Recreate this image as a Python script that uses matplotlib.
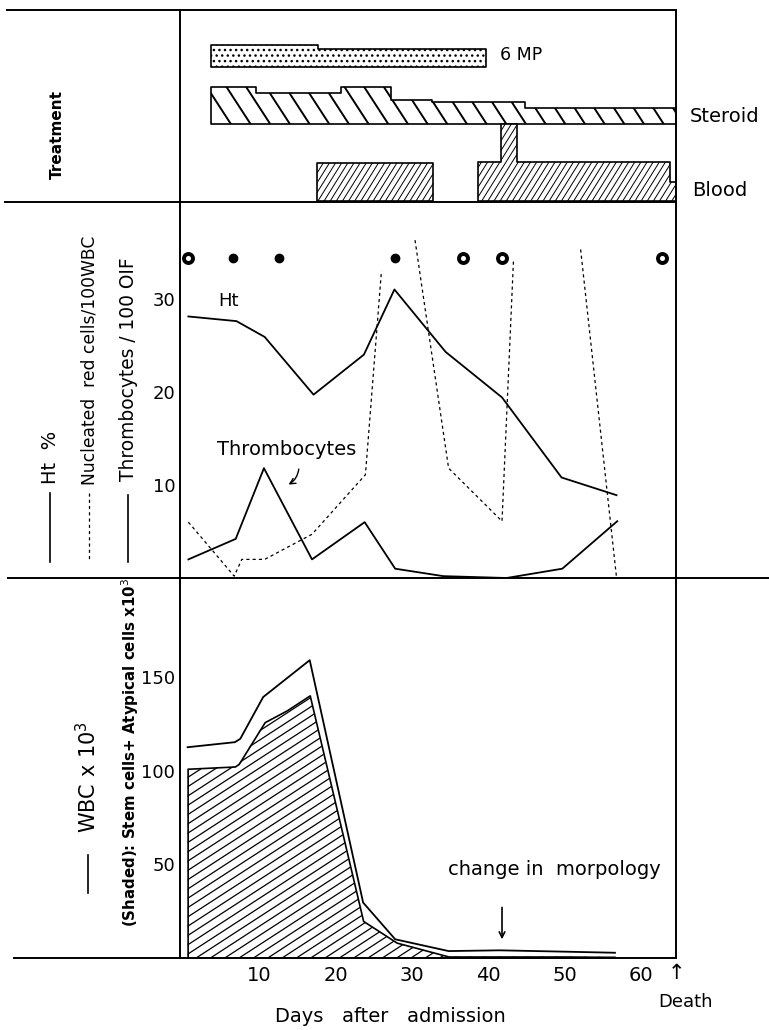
import numpy as np
import matplotlib
matplotlib.use("Agg")
import matplotlib.pyplot as plt
from matplotlib.lines import Line2D
from matplotlib.collections import LineCollection
from matplotlib.transforms import IdentityTransform

# ---- treatment (relative dose levels) ----
mp6_days = [3.7, 17.7, 39.7]
mp6_dose = [21.7, 17.4, 17.4]
steroid_days = [3.7, 9.6, 20.7, 27.2, 32.6, 44.8, 64.6]
steroid_dose = [37.3, 30.7, 37.3, 24.0, 21.7, 16.3, 16.3]
blood1_days = [17.5, 32.7]
blood1_amt = [38.0, 38.0]
blood2_days = [38.7, 41.7, 43.8, 63.8, 64.6]
blood2_amt = [39.0, 77.4, 39.0, 19.0, 19.0]

# ---- middle panel ----
ht_days = [0.7, 7.0, 10.7, 17.1, 23.7, 27.7, 34.4, 41.8, 49.6, 56.8]
ht_vals = [28.1, 27.6, 25.9, 19.7, 24.0, 31.0, 24.3, 19.4, 10.8, 8.9]
thr_days = [0.7, 6.9, 10.6, 16.9, 23.8, 27.8, 34.1, 42.4, 49.7, 56.9]
thr_vals = [2.0, 4.2, 11.8, 2.0, 6.0, 1.0, 0.2, 0.0, 1.0, 6.1]
# nucleated red cells, goes off scale twice (gaps = off the chart)
nrc_days = [0.7, 6.7, 7.7, 10.7, 16.9, 23.9, 26.0, np.nan, 30.4, 34.8, 41.8, 43.3, np.nan, 52.1, 56.8]
nrc_vals = [6.0, 0.2, 2.0, 2.0, 4.7, 11.1, 33.0, np.nan, 36.3, 11.8, 6.1, 34.1, np.nan, 35.3, 0.1]
marrow_full = [6.6, 12.6, 27.8]
marrow_ring = [0.6, 36.7, 41.8, 62.7]
marrow_level = 34.4

# ---- bottom panel ----
wbc_days = [0.6, 6.8, 7.5, 10.5, 16.6, 23.6, 27.8, 34.8, 41.5, 49.8, 56.6]
wbc_vals = [112.6, 115.3, 117.1, 139.4, 159.1, 29.6, 10.0, 3.7, 4.1, 3.4, 2.8]
stem_days = [0.6, 6.8, 7.3, 10.7, 13.6, 16.6, 23.6, 28.0, 34.8, 41.5, 49.8, 56.6]
stem_vals = [101.1, 102.3, 103.7, 126.0, 132.3, 140.3, 19.8, 8.2, 0.8, 0.8, 0.8, 0.6]

x_ticks = [10, 20, 30, 40, 50, 60]
mid_ticks = [10, 20, 30]
low_ticks = [50, 100, 150]

W, H = 769, 1030
plt.rcParams['font.family'] = ['DejaVu Sans']
fig = plt.figure(figsize=(W / 100, H / 100), dpi=100)


def fx(px):
    return px / W


def fy(py):
    return 1 - py / H


def add_panel(top, bottom):
    ax = fig.add_axes([fx(180), fy(bottom), fx(676) - fx(180), fy(top) - fy(bottom)])
    for s in ['top', 'bottom']:
        ax.spines[s].set_visible(False)
    for s in ['left', 'right']:
        ax.spines[s].set_linewidth(1.4)
    ax.set_xlim(-0.4, 64.6)
    ax.tick_params(length=0, labelsize=13)
    ax.set_xticks([])
    return ax


def hatch_lines(ax, coll, angle, gap, lw):
    # hand-drawn style hatching: straight lines at any angle, clipped to the shape
    path = coll.get_paths()[0]
    ext = path.transformed(ax.transData).get_extents()
    a = np.radians(angle)
    d = np.array([np.cos(a), np.sin(a)])
    n = np.array([-np.sin(a), np.cos(a)])
    c = np.array([(ext.x0 + ext.x1) / 2, (ext.y0 + ext.y1) / 2])
    half = np.hypot(ext.width, ext.height) / 2 + 5
    segs = [[c + t * n - half * d, c + t * n + half * d] for t in np.arange(-half, half, gap)]
    lc = LineCollection(segs, colors='black', linewidths=lw, transform=IdentityTransform())
    lc.set_clip_path(path, ax.transData)
    ax.add_collection(lc, autolim=False)


ax_t = add_panel(10, 202)
ax_m = add_panel(202, 578)
ax_b = add_panel(578, 958)

# horizontal rules (extend out beyond the frame like the original)
for y, x0, x1 in [(10, 7, 676), (202, 5, 676), (578, 8, 769), (958, 14, 676)]:
    fig.add_artist(Line2D([fx(x0), fx(x1)], [fy(y), fy(y)], color='black', lw=1.4))

# ---- treatment panel ----
ax_t.set_ylim(0, 192)
ax_t.set_yticks([])
base_mp, base_st, base_bl = 135.3, 78.0, 1.0
ax_t.fill_between(mp6_days, base_mp, base_mp + np.array(mp6_dose), step='post',
                  facecolor='white', edgecolor='black', hatch='...', lw=1.2)
st = ax_t.fill_between(steroid_days, base_st, base_st + np.array(steroid_dose), step='post',
                       facecolor='white', edgecolor='black', lw=1.2)
hatch_lines(ax_t, st, -57, 16.5, 1.4)
b1 = ax_t.fill_between(blood1_days, base_bl, base_bl + np.array(blood1_amt), step='post',
                       facecolor='white', edgecolor='black', lw=1.2)
hatch_lines(ax_t, b1, 58, 5.2, 0.7)
b2 = ax_t.fill_between(blood2_days, base_bl, base_bl + np.array(blood2_amt), step='post',
                       facecolor='white', edgecolor='black', lw=1.2)
hatch_lines(ax_t, b2, 58, 5.2, 0.7)
ax_t.text(41.5, 147, '6 MP', fontsize=12.5, va='center', ha='left')
ax_t.text(66.4, 85, 'Steroid', fontsize=14, va='center', ha='left', clip_on=False)
ax_t.text(66.7, 12, 'Blood', fontsize=14, va='center', ha='left', clip_on=False)
fig.text(fx(57), fy(135), 'Treatment', rotation=90, fontsize=11, fontweight='bold',
         ha='center', va='center')

# ---- middle panel ----
ax_m.set_ylim(0, 40.4)
ax_m.set_yticks(mid_ticks)
ax_m.plot(ht_days, ht_vals, color='black', lw=1.3)
ax_m.plot(thr_days, thr_vals, color='black', lw=1.3)
ax_m.plot(nrc_days, nrc_vals, color='black', lw=0.9, dashes=(2.5, 2.5))
ax_m.plot(marrow_full, [marrow_level] * len(marrow_full), 'o', color='black', ms=6)
ax_m.plot(marrow_ring, [marrow_level] * len(marrow_ring), 'o', mfc='white', mec='black',
          mew=2.8, ms=6.5, clip_on=False)
ax_m.text(5.9, 29.8, 'Ht', fontsize=13, ha='center', va='center')
ax_m.text(13.6, 13.8, 'Thrombocytes', fontsize=14, ha='center', va='center')
ax_m.annotate('', xy=(13.5, 9.9), xytext=(15.2, 12.0),
              arrowprops=dict(arrowstyle='->', color='black', lw=1.0,
                              connectionstyle='arc3,rad=-0.3'))

fig.text(fx(50), fy(457), 'Ht  %', rotation=90, fontsize=14, ha='center', va='center')
fig.add_artist(Line2D([fx(50), fx(50)], [fy(493), fy(562)], color='black', lw=1.2))
fig.text(fx(89), fy(360), 'Nucleated  red cells/100WBC', rotation=90, fontsize=12.3,
         ha='center', va='center')
fig.add_artist(Line2D([fx(89), fx(89)], [fy(493), fy(560)], color='black', lw=0.9,
                      dashes=(2.5, 2.5)))
fig.text(fx(128), fy(369), 'Thrombocytes / 100 OIF', rotation=90, fontsize=13.4,
         ha='center', va='center')
fig.add_artist(Line2D([fx(128), fx(128)], [fy(495), fy(562)], color='black', lw=1.2))

# ---- bottom panel ----
ax_b.set_ylim(0, 203)
ax_b.set_yticks(low_ticks)
sc = ax_b.fill_between(stem_days, 0, stem_vals, facecolor='white', edgecolor='black', lw=1.2)
hatch_lines(ax_b, sc, 33, 7.8, 0.9)
ax_b.plot(wbc_days, wbc_vals, color='black', lw=1.3)
ax_b.set_xticks(x_ticks)
ax_b.tick_params(axis='x', pad=6, labelsize=14)
ax_b.text(34.7, 47.1, 'change in  morpology', fontsize=14, ha='left', va='center')
ax_b.annotate('', xy=(41.8, 8.5), xytext=(41.8, 28.5),
              arrowprops=dict(arrowstyle='->', color='black', lw=1.2))
ax_b.text(64.6, -8, '\u2191', fontsize=15, ha='center', va='center', clip_on=False)
ax_b.text(65.8, -23.5, 'Death', fontsize=13, ha='center', va='center', clip_on=False)

fig.text(fx(88), fy(777), 'WBC x 10$^3$', rotation=90, fontsize=15, ha='center', va='center')
fig.add_artist(Line2D([fx(88), fx(88)], [fy(855), fy(893)], color='black', lw=1.2))
fig.text(fx(130), fy(752), '(Shaded): Stem cells+ Atypical cells x10$^3$', rotation=90,
         fontsize=10.8, fontweight='bold', ha='center', va='center')

fig.text(fx(390), fy(1017), 'Days   after   admission', fontsize=14, ha='center', va='center')

fig.savefig('out.png', dpi=100)
